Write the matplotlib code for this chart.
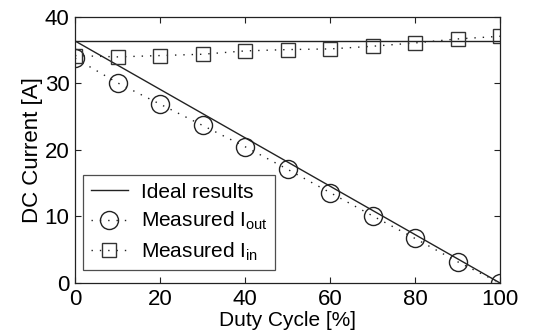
import numpy as np
import matplotlib
matplotlib.use("Agg")
import matplotlib.pyplot as plt

plt.rcParams['font.family'] = ['Liberation Sans', 'DejaVu Sans']
plt.rcParams['mathtext.fontset'] = 'custom'
plt.rcParams['mathtext.rm'] = 'Liberation Sans'
plt.rcParams['mathtext.it'] = 'Liberation Sans'

# data
duty = [0, 10, 20, 30, 40, 50, 60, 70, 80, 90, 100]
i_out = [33.8, 30.1, 26.9, 23.7, 20.5, 17.1, 13.6, 10.1, 6.7, 3.2, 0.0]
i_in = [34.2, 34.0, 34.2, 34.4, 34.9, 35.1, 35.2, 35.6, 36.1, 36.7, 37.1]
ideal_x = [0, 100]
ideal_in = [36.4, 36.4]
ideal_out = [36.4, 0.0]

fig = plt.figure(figsize=(5.46, 3.32), dpi=100)
ax = fig.add_axes([0.1374, 0.1476, 0.7784, 0.8012])

ax.plot(ideal_x, ideal_in, '-', color='#222222', lw=1.0, label='Ideal results')
ax.plot(ideal_x, ideal_out, '-', color='#222222', lw=1.0)
ax.plot(duty, i_out, linestyle=(0, (1, 5)), color='#222222', lw=1.0,
        marker='o', ms=13, mfc='none', mec='#222222', mew=1.0,
        label=r'Measured I$_{\mathrm{out}}$')
ax.plot(duty, i_in, linestyle=(0, (1, 5)), color='#222222', lw=1.0,
        marker='s', ms=9.5, mfc='none', mec='#333333', mew=1.0,
        label=r'Measured I$_{\mathrm{in}}$')

ax.set_xlim(0, 100)
ax.set_ylim(0, 40)
ax.set_xticks(range(0, 101, 20))
ax.set_yticks(range(0, 41, 10))
ax.tick_params(direction='in', top=True, right=True, labelsize=16, length=4,
               color='#222222')
ax.tick_params(axis='x', pad=4)
ax.tick_params(axis='y', pad=4)
ax.set_xlabel('Duty Cycle [%]', fontsize=15, labelpad=1)
ax.set_ylabel('DC Current [A]', fontsize=16, labelpad=1)
for s in ax.spines.values():
    s.set_color('#222222')
    s.set_linewidth(0.9)

leg = ax.legend(loc='lower left', bbox_to_anchor=(0.005, 0.025), fontsize=15,
                frameon=True, fancybox=False, edgecolor='#222222',
                handlelength=1.8, handletextpad=0.6, borderpad=0.35,
                labelspacing=0.4, borderaxespad=0.3)
leg.get_frame().set_linewidth(0.9)

fig.savefig('out.png', dpi=100)
